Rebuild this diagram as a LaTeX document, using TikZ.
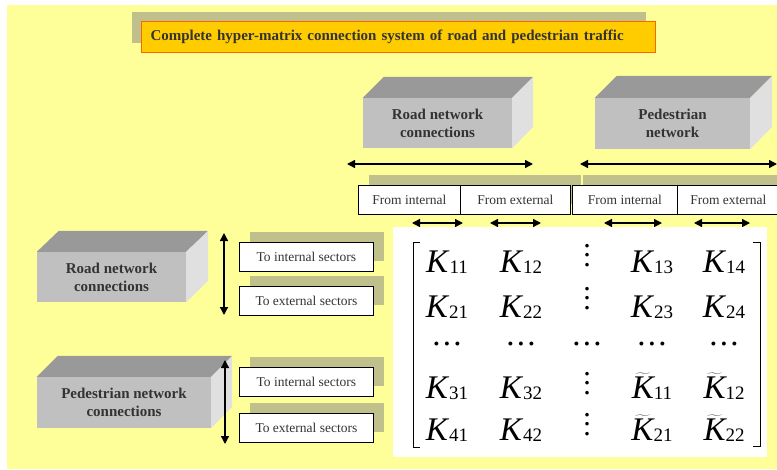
\documentclass[tikz,border=0pt]{standalone}
\usepackage{fontspec}
\setmainfont{Liberation Serif}
\usepackage{xcolor}
\usetikzlibrary{arrows.meta,calc,shadows}
\definecolor{paleyellow}{HTML}{FFFF99}
\definecolor{shadowolive}{HTML}{C0C08C}
\definecolor{titleorange}{HTML}{FFCC00}
\definecolor{titleedge}{HTML}{FF6600}
\definecolor{blockfront}{HTML}{C0C0C0}
\definecolor{blocktop}{HTML}{999999}
\definecolor{blockside}{HTML}{E0E0E0}
\definecolor{inkgray}{HTML}{333333}
\newcommand\Kel[1]{\textit{K}\raisebox{-1pt}{\fontsize{19}{19}\selectfont#1}}
\newcommand\Ktil[1]{$\widetilde{\mbox{\itshape K}}$\raisebox{-1pt}{\fontsize{19}{19}\selectfont#1}}
\newcommand\coldots{\fontsize{30}{30}\selectfont\vbox{\baselineskip=9.7pt\lineskiplimit=-\maxdimen\hbox{.}\hbox{.}\hbox{.}}}
\newcommand\rowdots{.\kern2.3pt.\kern2.3pt.}

\begin{document}
\begin{tikzpicture}[x=1pt,y=-1pt,
  titlebox/.style={draw=titleedge, line width=1pt, fill=titleorange, text=inkgray,
    text width=496pt, inner xsep=9pt, inner ysep=0pt, minimum height=31pt, align=left,
    font=\fontsize{15}{18}\selectfont\bfseries,
    general shadow={fill=shadowolive, shadow xshift=-10pt, shadow yshift=10pt}},
  boxlabel/.style={draw=black, line width=0.8pt, fill=white, inner sep=0pt,
    minimum height=29pt, text=inkgray, font=\fontsize{13.5}{16}\selectfont,
    general shadow={fill=shadowolive, shadow xshift=11pt, shadow yshift=10pt}},
  blockface/.style={fill=blockfront, text=inkgray, align=center, inner sep=0pt,
    font=\fontsize{15}{18}\selectfont\bfseries},
  twoway/.style={{Triangle[length=8pt,width=8pt]}-{Triangle[length=8pt,width=8pt]}, line width=1.4pt},
  entry/.style={anchor=base, inner sep=0pt, font=\fontsize{33}{36}\selectfont}]

\useasboundingbox (0,0) rectangle (777,469);
\fill [paleyellow] (7,5) rectangle (777,469);

% title
\node [titlebox, anchor=north west] (title) at (141,21) {Complete hyper-matrix connection system of road and pedestrian traffic};

% blocks on top
\node [blockface, minimum width=149pt, minimum height=50pt] (roadcol) at (437.5,123) {Road network\\connections};
\fill [blocktop] (roadcol.north west) -- ++(21,-21) -- ($(roadcol.north east)+(21,-21)$) -- (roadcol.north east) -- cycle;
\fill [blockside] (roadcol.north east) -- ++(21,-21) -- ++(0,50) -- (roadcol.south east) -- cycle;
\node [blockface, minimum width=155pt, minimum height=51pt] (pedcol) at (672.5,123.5) {Pedestrian\\network};
\fill [blocktop] (pedcol.north west) -- ++(22,-22) -- ($(pedcol.north east)+(22,-22)$) -- (pedcol.north east) -- cycle;
\fill [blockside] (pedcol.north east) -- ++(22,-22) -- ++(0,51) -- (pedcol.south east) -- cycle;

% blocks on the left
\node [blockface, minimum width=149pt, minimum height=50pt] (roadrow) at (111.5,277) {Road network\\connections};
\fill [blocktop] (roadrow.north west) -- ++(22,-21) -- ($(roadrow.north east)+(22,-21)$) -- (roadrow.north east) -- cycle;
\fill [blockside] (roadrow.north east) -- ++(22,-21) -- ++(0,50) -- (roadrow.south east) -- cycle;
\node [blockface, minimum width=174pt, minimum height=51pt] (pedrow) at (124,402.5) {Pedestrian network\\connections};
\fill [blocktop] (pedrow.north west) -- ++(21,-21) -- ($(pedrow.north east)+(21,-21)$) -- (pedrow.north east) -- cycle;
\fill [blockside] (pedrow.north east) -- ++(21,-21) -- ++(0,51) -- (pedrow.south east) -- cycle;

% column headers
\node [boxlabel, minimum width=102pt, anchor=north west] (fromRi) at (358,185) {From internal};
\node [boxlabel, minimum width=110pt, anchor=north west] (fromRe) at (460,185) {From external};
\node [boxlabel, minimum width=105pt, anchor=north west] (fromPi) at (572,185) {From internal};
\node [boxlabel, minimum width=102pt, anchor=north west] (fromPe) at (677,185) {From external};

% row headers
\node [boxlabel, minimum width=134pt, anchor=north west] (toRi) at (239,242) {To internal sectors};
\node [boxlabel, minimum width=134pt, anchor=north west] (toRe) at (239,286) {To external sectors};
\node [boxlabel, minimum width=134pt, anchor=north west] (toPi) at (239,367) {To internal sectors};
\node [boxlabel, minimum width=134pt, anchor=north west] (toPe) at (239,413) {To external sectors};

% arrows
\coordinate (rcL) at (347,164);  \coordinate (rcR) at (533,164);
\coordinate (pcL) at (580,164);  \coordinate (pcR) at (777,164);
\draw [twoway] (rcL) -- (rcR);
\draw [twoway] (pcL) -- (pcR);
\foreach \a/\b in {412/463,490/541,604/662,694/750} {
  \coordinate (hl\a) at (\a,223); \coordinate (hr\a) at (\b,223);
  \draw [twoway] (hl\a) -- (hr\a);
}
\coordinate (rrT) at (224,233);  \coordinate (rrB) at (224,315);
\coordinate (prT) at (225,360);  \coordinate (prB) at (225,444);
\draw [twoway] (rrT) -- (rrB);
\draw [twoway] (prT) -- (prB);

% hyper-matrix
\fill [white] (393,227) rectangle (767,457);
\draw [line width=0.8pt] (420,242) -- (413,242) -- (413,447) -- (420,447);
\draw [line width=0.8pt] (753,242) -- (760,242) -- (760,446) -- (753,446);
\foreach \r/\ry/\dy in {1/272/266.5,2/317/309.5,3/398/394.5,4/440/435.5} {
  \node [entry] (k\r1) at (447,\ry) {\Kel{\r1}};
  \node [entry] (k\r2) at (521,\ry) {\Kel{\r2}};
  \node [entry] (vd\r) at (587,\dy) {\coldots};
}
\node [entry] (k13) at (652,272) {\Kel{13}};
\node [entry] (k14) at (724,272) {\Kel{14}};
\node [entry] (k23) at (652,317) {\Kel{23}};
\node [entry] (k24) at (724,317) {\Kel{24}};
\node [entry] (k33) at (652,398) {\Ktil{11}};
\node [entry] (k34) at (724,398) {\Ktil{12}};
\node [entry] (k43) at (652,440) {\Ktil{21}};
\node [entry] (k44) at (724,440) {\Ktil{22}};
\foreach \c/\cx in {1/447,2/521,3/587,4/652,5/724}
  \node [entry] (hd\c) at (\cx,345) {\rowdots};

\end{tikzpicture}
\end{document}
